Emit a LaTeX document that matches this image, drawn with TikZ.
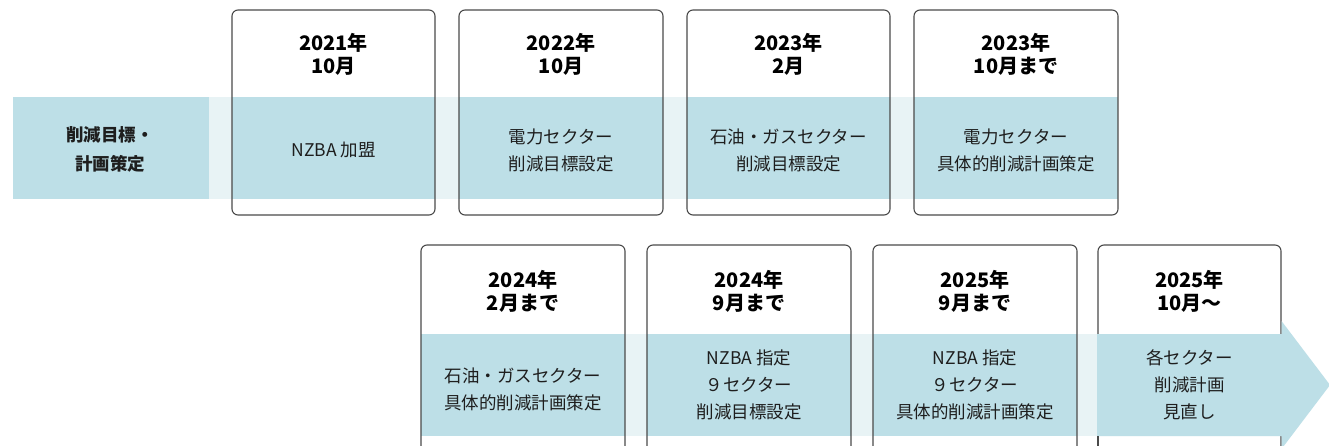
\documentclass[tikz,border=0pt]{standalone}
\usepackage{fontspec}
\setmainfont{Noto Sans CJK JP}
\definecolor{bandblue}{HTML}{BDDFE7}
\definecolor{bandlight}{HTML}{E8F3F5}
\definecolor{framec}{HTML}{4A4A4A}
\definecolor{txt}{HTML}{1E1E1E}
\tikzset{
  cardframe/.style={draw=framec, line width=1.1pt, rounded corners=6pt},
  datetext/.style={align=center, font=\bfseries\fontsize{20}{23.5}\selectfont, text=black, inner sep=0pt},
  bandtext/.style={align=center, font=\fontsize{17.5}{27}\selectfont, text=txt, inner sep=0pt},
  labeltext/.style={align=center, font=\bfseries\fontsize{17.5}{29}\selectfont, text=txt, inner sep=0pt},
}
\begin{document}
\begin{tikzpicture}[x=1pt,y=-1pt]
\clip (0,0) rectangle (1329,446);
\fill[white] (0,0) rectangle (1329,446);

% ---------- top row ----------
\fill[bandlight] (209,97) rectangle (1118,199);
\fill[bandblue] (13,97) rectangle (209,199);
\node[labeltext] (lab) at (110,149) {削減目標・\\計画策定};

\foreach \xa/\xb/\nm in {232/435/t1, 459/663/t2, 687/890/t3, 914/1118/t4}{
  \fill[white, rounded corners=6pt] (\xa,10) rectangle (\xb,215);
  \fill[bandblue] (\xa,97) rectangle (\xb,199);
  \draw[cardframe] (\xa,10) rectangle (\xb,215);
  \coordinate (\nm) at ({(\xa+\xb)/2},0);
}
\node[datetext] (d1) at ([yshift=-54.5pt]t1) {2021年\\10月};
\node[datetext] (d2) at ([yshift=-54.5pt]t2) {2022年\\10月};
\node[datetext] (d3) at ([yshift=-54.5pt]t3) {2023年\\2月};
\node[datetext] (d4) at ([yshift=-54.5pt]t4) {2023年\\10月まで};
\node[bandtext] (e1) at ([yshift=-150pt]t1) {NZBA 加盟};
\node[bandtext] (e2) at ([yshift=-150pt]t2) {電力セクター\\削減目標設定};
\node[bandtext] (e3) at ([yshift=-150pt]t3) {石油・ガスセクター\\削減目標設定};
\node[bandtext] (e4) at ([yshift=-150pt]t4) {電力セクター\\具体的削減計画策定};

% ---------- bottom row ----------
\fill[bandlight] (625,334) rectangle (1098,436);
\foreach \xa/\xb/\nm in {421/625/u1, 647/851/u2, 873/1077/u3, 1098/1281/u4}{
  \fill[white, rounded corners=6pt] (\xa,245) rectangle (\xb,470);
  \fill[bandblue] (\xa,334) rectangle (\xb,436);
  \draw[cardframe] (\xa,245) rectangle (\xb,470);
  \coordinate (\nm) at ({(\xa+\xb)/2},0);
}
\fill[bandblue] (1097,334) -- (1281.5,334) -- (1281.5,321) -- (1330,385) -- (1281.5,449) -- (1281.5,436) -- (1097,436) -- cycle;
\draw[framec, line width=1.1pt] (1098,436) -- (1098,446);

\node[datetext] (f1) at ([yshift=-291.5pt]u1) {2024年\\2月まで};
\node[datetext] (f2) at ([yshift=-291.5pt]u2) {2024年\\9月まで};
\node[datetext] (f3) at ([yshift=-291.5pt]u3) {2025年\\9月まで};
\node[datetext] (f4) at ([yshift=-291.5pt]u4) {2025年\\10月～};
\node[bandtext] (g1) at ([yshift=-389pt]u1) {石油・ガスセクター\\具体的削減計画策定};
\node[bandtext] (g2) at ([yshift=-385pt]u2) {NZBA 指定\\９セクター\\削減目標設定};
\node[bandtext] (g3) at ([yshift=-385pt]u3) {NZBA 指定\\９セクター\\具体的削減計画策定};
\node[bandtext] (g4) at ([yshift=-385pt]u4) {各セクター\\削減計画\\見直し};
\end{tikzpicture}
\end{document}
